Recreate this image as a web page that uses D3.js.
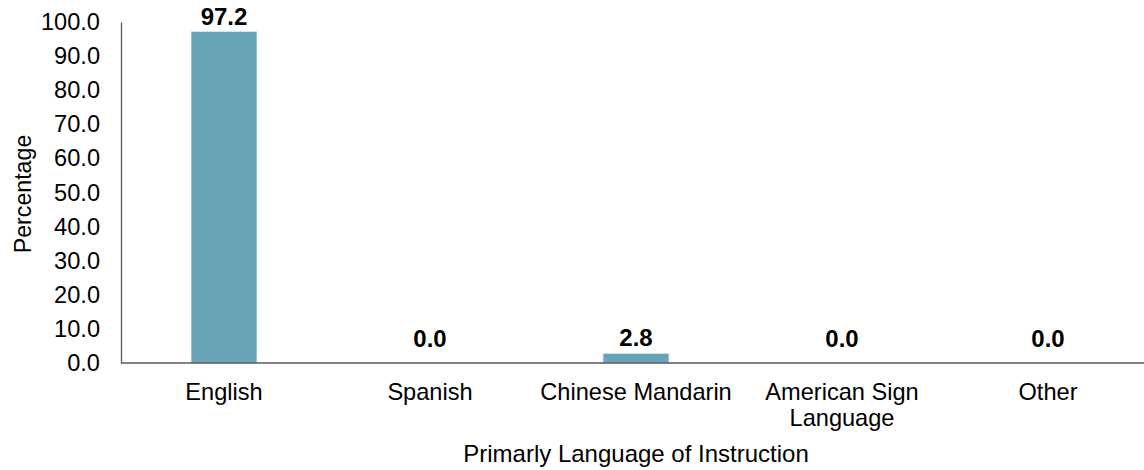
<!DOCTYPE html>
<html><head><meta charset="utf-8">
<script src="https://cdn.jsdelivr.net/npm/d3@7"></script>
<style>body{margin:0;background:#fff}svg{display:block}text{font-family:"Liberation Sans",Arial,sans-serif;fill:#000}</style>
</head><body><svg id="c" width="1144" height="470"></svg>
<script>
const categories = ["English", "Spanish", "Chinese Mandarin", "American Sign Language", "Other"];
const categoryLines = [["English"], ["Spanish"], ["Chinese Mandarin"], ["American Sign", "Language"], ["Other"]];
const values = [97.2, 0.0, 2.8, 0.0, 0.0];
const yTicks = [0, 10, 20, 30, 40, 50, 60, 70, 80, 90, 100];
const yTitle = "Percentage";
const xTitle = "Primarly Language of Instruction";

const svg = d3.select("#c");
const fs = 23.6;
const x = d3.scaleBand().domain(categories).range([121, 1151]).paddingInner(0.68).paddingOuter(0.34);
const y = d3.scaleLinear().domain([0, 100]).range([363, 22]);

// y axis
const ya = svg.append("g").attr("transform", "translate(121,0)")
  .call(d3.axisLeft(y).tickValues(yTicks).tickSize(0).tickPadding(21).tickFormat(d3.format(".1f")));
ya.select(".domain").attr("stroke", "#595959").attr("stroke-width", 1.3);
ya.selectAll("text").attr("font-size", fs).attr("font-family", "Liberation Sans, Arial, sans-serif").attr("fill", "#000");

// bars
svg.append("g").selectAll("rect").data(values).join("rect")
  .attr("x", (d, i) => x(categories[i]))
  .attr("width", x.bandwidth())
  .attr("y", d => y(d))
  .attr("height", d => y(0) - y(d))
  .attr("fill", "#68a3b8")
  .attr("stroke", "#dbe9ee").attr("stroke-width", 0.8);

// x axis line
svg.append("line").attr("x1", 121).attr("x2", 1144).attr("y1", y(0)).attr("y2", y(0))
  .attr("stroke", "#595959").attr("stroke-width", 1.3);

// value labels
svg.append("g").selectAll("text").data(values).join("text")
  .attr("x", (d, i) => x(categories[i]) + x.bandwidth() / 2)
  .attr("y", d => Math.min(y(d), y(0) - 9) - 7)
  .attr("text-anchor", "middle").attr("font-weight", "bold").attr("font-size", 24)
  .text(d => d.toFixed(1));

// category labels
const cl = svg.append("g").selectAll("text").data(categoryLines).join("text")
  .attr("text-anchor", "middle").attr("font-size", fs)
  .attr("transform", (d, i) => `translate(${x(categories[i]) + x.bandwidth() / 2},400)`);
cl.selectAll("tspan").data(d => d).join("tspan")
  .attr("x", 0).attr("dy", (d, j) => j === 0 ? 0 : 26).text(d => d);

// titles
svg.append("text").attr("x", 636).attr("y", 462).attr("text-anchor", "middle").attr("font-size", 24).text(xTitle);
svg.append("text").attr("transform", "translate(31,194) rotate(-90)").attr("text-anchor", "middle").attr("font-size", 23.2).text(yTitle);
</script></body></html>
